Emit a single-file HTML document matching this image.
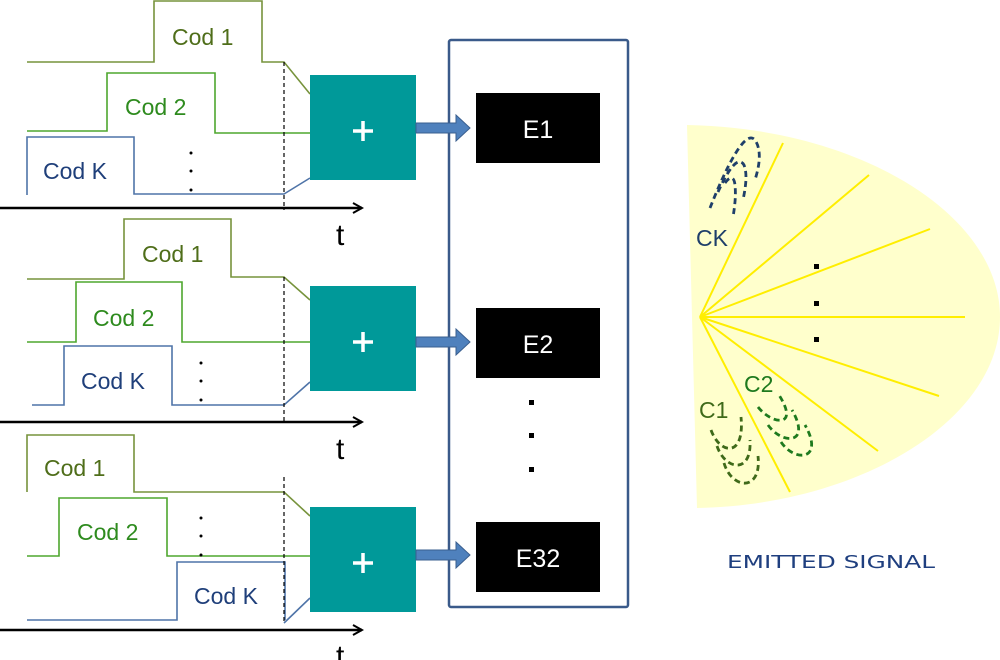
<!DOCTYPE html>
<html><head><meta charset="utf-8"><style>
html,body{margin:0;padding:0;background:#fff;width:1000px;height:660px;overflow:hidden}
svg{display:block}
text{font-family:"Liberation Sans","DejaVu Sans",sans-serif}
.v{font-family:"DejaVu Sans","Liberation Sans",sans-serif}
</style></head><body>
<svg width="1000" height="660" viewBox="0 0 1000 660" xmlns="http://www.w3.org/2000/svg">
<defs>
<marker id="ah" markerWidth="12" markerHeight="12" refX="10" refY="6" orient="auto" markerUnits="userSpaceOnUse">
<path d="M1,1 L10,6 L1,11" fill="none" stroke="#000" stroke-width="2"/>
</marker>
</defs>
<g fill="none" stroke-width="1.6">
<path d="M27,62 H154 V1 H262 V62 H284 L310,94" stroke="#77933c"/>
<path d="M27,131 H107 V73 H215 V133 H310" stroke="#4ea72e"/>
<path d="M27,195 V137 H134 V194 H284 L310,178" stroke="#4f74a8"/>
<line x1="284" y1="62" x2="284" y2="210" stroke="#000" stroke-width="1.2" stroke-dasharray="4,3"/>
<line x1="0" y1="208" x2="362" y2="208" stroke="#000" stroke-width="2.5" marker-end="url(#ah)"/>
<path d="M27,279 H124 V219 H231 V277 H284 L310,300" stroke="#77933c"/>
<path d="M27,342 H76 V282 H182 V342 H310" stroke="#4ea72e"/>
<path d="M32,405 H64 V346 H172 V405 H284 L310,382" stroke="#4f74a8"/>
<line x1="284" y1="277" x2="284" y2="422" stroke="#000" stroke-width="1.2" stroke-dasharray="4,3"/>
<line x1="0" y1="422" x2="362" y2="422" stroke="#000" stroke-width="2.5" marker-end="url(#ah)"/>
<path d="M27,492 V435 H134 V492 H284 L310,516" stroke="#77933c"/>
<path d="M27,556 H59 V498 H167 V556 H310" stroke="#4ea72e"/>
<path d="M27,620 H177 V562 H285 V620 M284,623 L310,598" stroke="#4f74a8"/>
<line x1="284" y1="477" x2="284" y2="623" stroke="#000" stroke-width="1.2" stroke-dasharray="4,3"/>
<line x1="0" y1="630" x2="362" y2="630" stroke="#000" stroke-width="2.5" marker-end="url(#ah)"/>
</g>
<g fill="#000">
<circle cx="191" cy="153" r="1.5"/><circle cx="191" cy="171" r="1.5"/><circle cx="191" cy="190" r="1.5"/>
<circle cx="201" cy="363" r="1.5"/><circle cx="201" cy="381" r="1.5"/><circle cx="201" cy="400" r="1.5"/>
<circle cx="201" cy="518" r="1.5"/><circle cx="201" cy="536" r="1.5"/><circle cx="201" cy="555" r="1.5"/>
</g>
<g font-size="23">
<text x="172" y="45" fill="#4f6e1a">Cod 1</text>
<text x="125" y="115" fill="#2e8b1e">Cod 2</text>
<text x="43" y="179" fill="#1f3f7a">Cod K</text>
<text x="142" y="262" fill="#4f6e1a">Cod 1</text>
<text x="93" y="326" fill="#2e8b1e">Cod 2</text>
<text x="81" y="389" fill="#1f3f7a">Cod K</text>
<text x="44" y="476" fill="#4f6e1a">Cod 1</text>
<text x="77" y="540" fill="#2e8b1e">Cod 2</text>
<text x="194" y="604" fill="#1f3f7a">Cod K</text>
</g>
<g font-size="30" fill="#000">
<text x="336" y="245">t</text>
<text x="336" y="459">t</text>
<text x="336" y="666">t</text>
</g>
<rect x="449" y="40" width="179" height="567" fill="none" stroke="#3a5a8a" stroke-width="2.5" rx="2"/>
<g fill="#009999">
<rect x="310" y="75" width="106" height="105"/>
<rect x="310" y="286" width="106" height="105"/>
<rect x="310" y="507" width="106" height="105"/>
</g>
<g stroke="#fff" stroke-width="3.5">
<path d="M353,131 H373 M363,121 V141"/>
<path d="M353,342 H373 M363,332 V352"/>
<path d="M353,563 H373 M363,553 V573"/>
</g>
<g fill="#4f81bd" stroke="#3a5f8f" stroke-width="1">
<path d="M416,123 H456 V115 L470,128 L456,141 V133 H416 Z"/>
<path d="M416,337 H456 V329 L470,342 L456,355 V347 H416 Z"/>
<path d="M416,550 H456 V542 L470,555 L456,568 V560 H416 Z"/>
</g>
<g fill="#000">
<rect x="476" y="93" width="124" height="70"/>
<rect x="476" y="308" width="124" height="70"/>
<rect x="476" y="522" width="124" height="70"/>
<rect x="529" y="400" width="5" height="5"/>
<rect x="529" y="433" width="5" height="5"/>
<rect x="529" y="467" width="5" height="5"/>
</g>
<g font-size="25" fill="#fff" text-anchor="middle" class="v">
<text x="538" y="138">E1</text>
<text x="538" y="353">E2</text>
<text x="538" y="567">E32</text>
</g>
<path d="M687,125 C860,128 1000,215 1000,317 C1000,420 860,505 697,508 Z" fill="#ffffcc"/>
<g stroke="#ffee00" stroke-width="2">
<line x1="700" y1="317" x2="783" y2="143"/>
<line x1="700" y1="317" x2="869" y2="175"/>
<line x1="700" y1="317" x2="930" y2="229"/>
<line x1="700" y1="317" x2="965" y2="317"/>
<line x1="700" y1="317" x2="939" y2="396"/>
<line x1="700" y1="317" x2="878" y2="451"/>
<line x1="700" y1="317" x2="790" y2="492"/>
</g>
<g fill="#000">
<rect x="814" y="264" width="5" height="5"/>
<rect x="814" y="301" width="5" height="5"/>
<rect x="814" y="337" width="5" height="5"/>
</g>
<g fill="none" stroke-width="2.8" stroke-dasharray="6,4">
<g stroke="#1f3f6a">
<path d="M710,208 C725,170 745,128 755,140 C763,152 758,170 755,180"/>
<path d="M718,192 C728,170 738,155 744,165 C748,175 745,190 743,200"/>
<path d="M725,183 C730,176 734,176 735,185 C736,195 735,205 733,217"/>
</g>
<g stroke="#3f6a1a">
<path d="M711,430 C720,455 745,458 741,417"/>
<path d="M717,446 C725,470 752,475 750,440"/>
<path d="M724,463 C732,490 762,492 758,456"/>
</g>
<g stroke="#1e7a1e">
<path d="M758,407 C772,425 800,428 779,395"/>
<path d="M768,425 C782,445 812,445 792,410"/>
<path d="M781,442 C795,463 825,460 805,425"/>
</g>
</g>
<g font-size="23" class="v">
<text x="696" y="246" fill="#1f3f6a">CK</text>
<text x="699" y="418" fill="#3f6a1a">C1</text>
<text x="744" y="392" fill="#1e7a1e">C2</text>
</g>
<text x="727" y="568" font-size="18" fill="#1f3f7f" class="v" textLength="208" lengthAdjust="spacingAndGlyphs">EMITTED SIGNAL</text>
</svg>
</body></html>
